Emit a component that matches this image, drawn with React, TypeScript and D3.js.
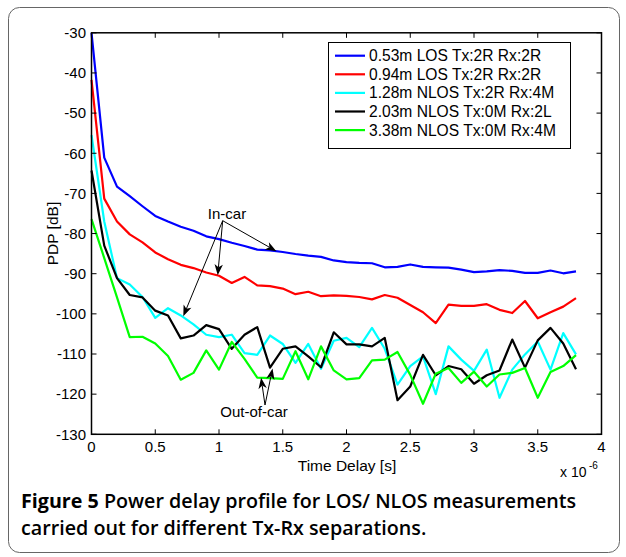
import React from "react";
import * as d3 from "d3";

const timeUs = [0,0.1,0.2,0.3,0.4,0.5,0.6,0.7,0.8,0.9,1.0,1.1,1.2,1.3,1.4,1.5,1.6,1.7,1.8,1.9,2.0,2.1,2.2,2.3,2.4,2.5,2.6,2.7,2.8,2.9,3.0,3.1,3.2,3.3,3.4,3.5,3.6,3.7,3.8];

const blue = [-30,-61.1,-68.3,-70.7,-73.2,-75.6,-77.0,-78.3,-79.3,-80.7,-81.4,-82.3,-83.1,-84.0,-84.2,-84.6,-85.1,-85.5,-85.8,-86.7,-87.1,-87.3,-87.4,-88.4,-88.3,-87.7,-88.3,-88.4,-88.5,-89.0,-89.6,-89.4,-89.1,-89.3,-89.8,-89.8,-89.2,-89.9,-89.4];
const red = [-41.7,-71.3,-77.0,-80.2,-82.2,-84.7,-86.4,-87.8,-88.6,-89.7,-90.5,-92.3,-90.8,-92.9,-93.1,-93.7,-95.1,-94.5,-95.6,-95.4,-95.5,-95.8,-96.4,-95.3,-96.0,-97.8,-99.6,-102.3,-97.7,-98.0,-98.0,-97.6,-99.0,-99.8,-96.8,-101.1,-99.6,-98.2,-96.1];
const cyan = [-55.5,-77.0,-91.1,-92.7,-95.8,-101.0,-98.6,-100.4,-102.6,-105.2,-105.8,-105.2,-109.8,-110.2,-105.4,-107.5,-112.2,-107.5,-113.7,-106.7,-106.0,-108.3,-103.5,-108.7,-117.6,-113.0,-110.6,-120.0,-108.1,-111.4,-114.2,-108.9,-120.9,-113.9,-110.1,-106.9,-113.9,-104.8,-110.1];
const black = [-64.3,-83.0,-91.1,-95.3,-95.9,-99.2,-100.4,-106.1,-105.4,-102.8,-103.8,-108.7,-105.2,-103.3,-113.4,-108.7,-108.1,-110.6,-113.3,-104.6,-107.6,-107.6,-108.1,-106.0,-121.5,-118.1,-110.2,-115.3,-113.0,-113.8,-117.4,-115.3,-114.1,-106.4,-113.4,-106.6,-103.5,-107.4,-113.8];
const green = [-76.4,-86.1,-95.9,-105.8,-105.7,-107.4,-110.5,-116.4,-114.7,-109.1,-113.9,-107.0,-111.2,-115.9,-116.0,-116.2,-109.3,-116.3,-108.1,-114.1,-116.3,-116.0,-111.6,-111.4,-109.5,-115.2,-122.4,-114.9,-113.5,-117.2,-114.4,-118.1,-115.1,-114.7,-113.5,-120.9,-114.5,-113.0,-110.3];

const seriesNames = [
  "0.53m LOS Tx:2R Rx:2R",
  "0.94m LOS Tx:2R Rx:2R",
  "1.28m NLOS Tx:2R Rx:4M",
  "2.03m NLOS Tx:0M Rx:2L",
  "3.38m NLOS Tx:0M Rx:4M",
];
const seriesValues = [blue, red, cyan, black, green];
const seriesColors = ["#0000ff", "#ff0000", "#00ffff", "#000000", "#00ff00"];

const xTicks = [0, 0.5, 1, 1.5, 2, 2.5, 3, 3.5, 4];
const yTicks = [-130, -120, -110, -100, -90, -80, -70, -60, -50, -40, -30];

const inCarTargets = [[1.45, -84.4], [0.99, -90.4], [0.72, -100.6]];
const outCarTargets = [[1.33, -115.9], [1.42, -113.6]];

const W = 626, H = 557;
const L = 91.5, R = 601.5, T = 32.8, B = 434.3;
const FONT = "'Liberation Sans', Arial, Helvetica, sans-serif";
const CAPFONT = "'Open Sans', 'Noto Sans', sans-serif";

function Arrow({ x1, y1, x2, y2 }: { x1: number; y1: number; x2: number; y2: number }) {
  const ang = Math.atan2(y2 - y1, x2 - x1);
  const len = 11, hw = 4.2, back = 8;
  const cos = Math.cos(ang), sin = Math.sin(ang);
  const bx = x2 - len * cos, by = y2 - len * sin;
  const p1 = [bx - hw * sin, by + hw * cos];
  const p2 = [bx + hw * sin, by - hw * cos];
  const pm = [x2 - back * cos, y2 - back * sin];
  return (
    <g>
      <line x1={x1} y1={y1} x2={pm[0]} y2={pm[1]} stroke="#000" strokeWidth={1} />
      <polygon points={`${x2},${y2} ${p1[0]},${p1[1]} ${pm[0]},${pm[1]} ${p2[0]},${p2[1]}`} fill="#000" />
    </g>
  );
}

export default function App() {
  const x = d3.scaleLinear().domain([0, 4]).range([L, R]);
  const y = d3.scaleLinear().domain([-130, -30]).range([B, T]);
  const line = d3.line<number>().x((_, i) => x(timeUs[i])).y((d) => y(d));

  const inOrigin = [222.7, 220.7];
  const outOrigin = [265, 405];

  return (
    <div style={{ position: "absolute", left: 0, top: 0 }}>
      <svg width={W} height={H} style={{ display: "block" }}>
        <rect x={0} y={0} width={W} height={H} fill="#fff" />
        <rect x={8.5} y={7.5} width={611} height={545} rx={11} ry={11} fill="none" stroke="#666" strokeWidth={1} />

        {seriesValues.map((vals, k) => (
          <path key={k} d={line(vals) || ""} fill="none" stroke={seriesColors[k]} strokeWidth={2.2} strokeLinejoin="round" />
        ))}

        {/* axes box */}
        <rect x={L} y={T} width={R - L} height={B - T} fill="none" stroke="#000" strokeWidth={1.5} />
        {xTicks.map((t) => (
          <g key={"x" + t}>
            <line x1={x(t)} x2={x(t)} y1={B} y2={B - 5} stroke="#000" strokeWidth={1} />
            <line x1={x(t)} x2={x(t)} y1={T} y2={T + 5} stroke="#000" strokeWidth={1} />
            <text x={x(t)} y={452} textAnchor="middle" fontFamily={FONT} fontSize={15}>{String(t)}</text>
          </g>
        ))}
        {yTicks.map((v) => (
          <g key={"y" + v}>
            <line x1={L} x2={L + 5} y1={y(v)} y2={y(v)} stroke="#000" strokeWidth={1} />
            <line x1={R} x2={R - 5} y1={y(v)} y2={y(v)} stroke="#000" strokeWidth={1} />
            <text x={86} y={y(v) + 5.3} textAnchor="end" fontFamily={FONT} fontSize={15}>{String(v)}</text>
          </g>
        ))}

        <text x={347} y={471} textAnchor="middle" fontFamily={FONT} fontSize={15.5}>Time Delay [s]</text>
        <text x={560} y={477} fontFamily={FONT} fontSize={14}>x 10</text>
        <text x={589} y={469} fontFamily={FONT} fontSize={10}>-6</text>
        <text transform={`translate(58,${(T + B) / 2}) rotate(-90)`} textAnchor="middle" fontFamily={FONT} fontSize={15.5}>PDP [dB]</text>

        {/* legend */}
        <rect x={328.5} y={42.5} width={242} height={106} fill="#fff" stroke="#000" strokeWidth={1} />
        {seriesNames.map((n, k) => (
          <g key={n}>
            <line x1={335} x2={365} y1={55.7 + k * 18.6} y2={55.7 + k * 18.6} stroke={seriesColors[k]} strokeWidth={2.2} />
            <text x={369} y={55.7 + k * 18.6 + 5.4} fontFamily={FONT} fontSize={15.6}>{n}</text>
          </g>
        ))}

        {/* annotations */}
        <text x={227} y={219} textAnchor="middle" fontFamily={FONT} fontSize={15}>In-car</text>
        {inCarTargets.map(([t, v], i) => (
          <Arrow key={"in" + i} x1={inOrigin[0]} y1={inOrigin[1]} x2={x(t)} y2={y(v)} />
        ))}
        <text x={254} y={417} textAnchor="middle" fontFamily={FONT} fontSize={15}>Out-of-car</text>
        {outCarTargets.map(([t, v], i) => (
          <Arrow key={"out" + i} x1={outOrigin[0]} y1={outOrigin[1]} x2={x(t)} y2={y(v)} />
        ))}

        {/* caption */}
        <text x={21} y={508} fontFamily={CAPFONT} fontSize={19.7} fontWeight={600}>
          <tspan fontWeight={700}>Figure 5</tspan> Power delay profile for LOS/ NLOS measurements
        </text>
        <text x={21} y={535} fontFamily={CAPFONT} fontSize={19.7} fontWeight={600}>
          carried out for different Tx-Rx separations.
        </text>
      </svg>
    </div>
  );
}
